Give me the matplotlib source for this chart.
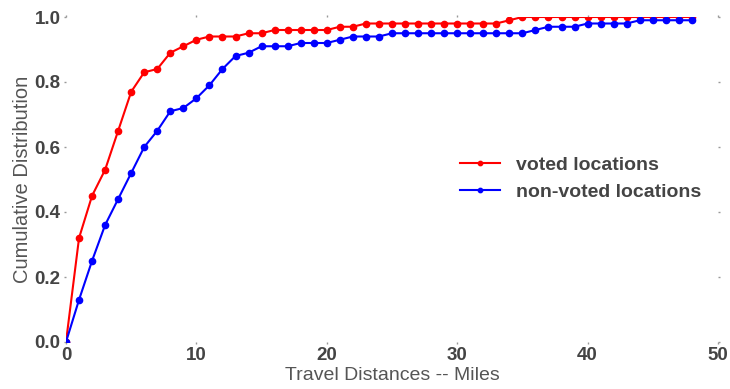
import matplotlib
matplotlib.use("Agg")
import matplotlib.pyplot as plt

distances = list(range(0, 49))
voted = [0.0, 0.32, 0.45, 0.53, 0.65, 0.77, 0.83, 0.84, 0.89, 0.91,
         0.93, 0.94, 0.94, 0.94, 0.95, 0.95, 0.96, 0.96, 0.96, 0.96,
         0.96, 0.97, 0.97, 0.98, 0.98, 0.98, 0.98, 0.98, 0.98, 0.98,
         0.98, 0.98, 0.98, 0.98, 0.99, 1.0, 1.0, 1.0, 1.0, 1.0,
         1.0, 1.0, 1.0, 1.0, 1.0, 1.0, 1.0, 1.0, 1.0]
non_voted = [0.0, 0.13, 0.25, 0.36, 0.44, 0.52, 0.60, 0.65, 0.71, 0.72,
             0.75, 0.79, 0.84, 0.88, 0.89, 0.91, 0.91, 0.91, 0.92, 0.92,
             0.92, 0.93, 0.94, 0.94, 0.94, 0.95, 0.95, 0.95, 0.95, 0.95,
             0.95, 0.95, 0.95, 0.95, 0.95, 0.95, 0.96, 0.97, 0.97, 0.97,
             0.98, 0.98, 0.98, 0.98, 0.99, 0.99, 0.99, 0.99, 0.99]
x_ticks = [0, 10, 20, 30, 40, 50]
y_ticks = [0.0, 0.2, 0.4, 0.6, 0.8, 1.0]

plt.rcParams["font.family"] = ["Liberation Sans", "DejaVu Sans"]

fig = plt.figure(figsize=(7.3, 3.89), dpi=100)
ax = fig.add_axes([66/730, 47/389, 652/730, 325/389])

ax.plot(distances, voted, color="#ff0000", lw=1.5, marker="o", ms=4.5,
        label="voted locations")
ax.plot(distances, non_voted, color="#0000ff", lw=1.5, marker="o", ms=4.5,
        label="non-voted locations")

ax.set_xlim(0, 50)
ax.set_ylim(0, 1.0)
ax.set_xticks(x_ticks)
ax.set_yticks(y_ticks)
ax.set_xticklabels([str(t) for t in x_ticks])
ax.set_yticklabels([f"{t:.1f}" for t in y_ticks])

for s in ax.spines.values():
    s.set_visible(False)
ax.tick_params(axis="both", which="both", direction="out", length=1.5,
               width=1, color="#999999", top=True, right=True,
               labelcolor="#444444", labelsize=13.5)
ax.tick_params(axis="x", pad=2)
ax.tick_params(axis="y", pad=2.5)
for lab in ax.get_xticklabels() + ax.get_yticklabels():
    lab.set_fontweight("bold")

ax.set_xlabel("Travel Distances -- Miles", fontsize=14, color="#555555",
              labelpad=2)
ax.set_ylabel("Cumulative Distribution", fontsize=14.5, color="#555555",
              labelpad=2)

leg = ax.legend(loc="center left", bbox_to_anchor=(0.578, 0.503), frameon=False,
                prop={"weight": "bold", "size": 14},
                handlelength=2.06, handletextpad=0.8, markerscale=0.7,
                labelspacing=0.5)
for t in leg.get_texts():
    t.set_color("#444444")

fig.savefig("out.png", dpi=100)
